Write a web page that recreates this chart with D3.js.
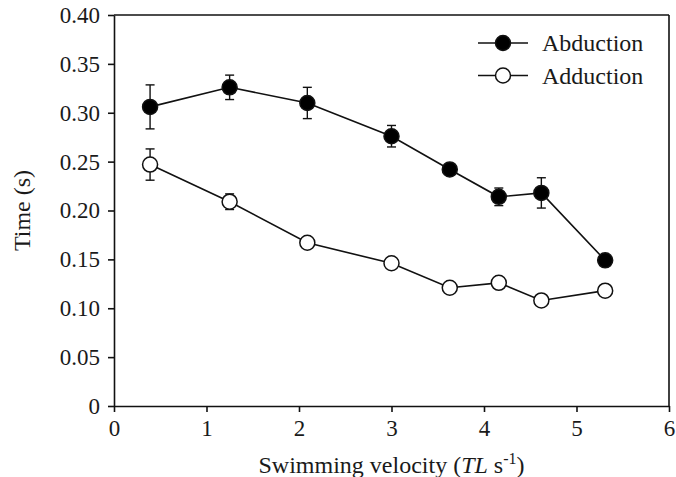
<!DOCTYPE html>
<html>
<head>
<meta charset="utf-8">
<script src="https://d3js.org/d3.v7.min.js"></script>
<style>
  body { margin: 0; background: #fff; }
  svg { display: block; }
  svg text { font-family: "Liberation Serif", "Tinos", "DejaVu Serif", serif !important; fill: #1a1a1a; }
</style>
</head>
<body>
<svg width="676" height="477"></svg>
<script>
// velocities (TL s-1)
const velocity = [0.39, 1.25, 2.09, 3.0, 3.63, 4.16, 4.62, 5.31];
// abduction time (s) and its error
const abduction = [0.306, 0.326, 0.310, 0.276, 0.242, 0.214, 0.218, 0.149];
const abductionErr = [0.0225, 0.0125, 0.016, 0.011, 0.006, 0.009, 0.0155, 0.003];
// adduction time (s) and its error
const adduction = [0.247, 0.209, 0.167, 0.146, 0.121, 0.126, 0.108, 0.118];
const adductionErr = [0.016, 0.008, 0.004, 0.003, 0.003, 0.004, 0.003, 0.003];
const xTicks = [0, 1, 2, 3, 4, 5, 6];
const yTicks = [0, 0.05, 0.10, 0.15, 0.20, 0.25, 0.30, 0.35, 0.40];

const svg = d3.select("svg"),
      margin = {top: 15, right: 7, bottom: 71, left: 114},
      width = +svg.attr("width") - margin.left - margin.right,
      height = +svg.attr("height") - margin.top - margin.bottom;

const x = d3.scaleLinear().domain([0, 6]).range([0, width]);
const y = d3.scaleLinear().domain([0, 0.40]).range([height, 0]);

const g = svg.append("g").attr("transform", `translate(${margin.left},${margin.top})`);

// axes
const gx = g.append("g")
  .attr("transform", `translate(0,${height})`)
  .call(d3.axisBottom(x).tickValues(xTicks).tickFormat(d3.format("d"))
    .tickSize(6).tickSizeOuter(0).tickPadding(6));
const gy = g.append("g")
  .call(d3.axisLeft(y).tickValues(yTicks).tickFormat(d => d === 0 ? "0" : d3.format(".2f")(d))
    .tickSize(6).tickSizeOuter(0).tickPadding(8));
[gx, gy].forEach(a => {
  a.attr("font-family", null);
  a.selectAll("path, line").attr("stroke", "#111").attr("stroke-width", 1.6);
  a.selectAll("text").attr("font-size", 23).attr("fill", "#1a1a1a");
});
gx.selectAll("text").attr("dy", "0.78em");

// box: top and right borders
g.append("line").attr("x1", 0).attr("x2", width).attr("y1", 0).attr("y2", 0)
  .attr("stroke", "#111").attr("stroke-width", 1.6);
g.append("line").attr("x1", width).attr("x2", width).attr("y1", 0).attr("y2", height)
  .attr("stroke", "#111").attr("stroke-width", 1.6);

// axis titles
svg.append("text")
  .attr("x", margin.left + x(3.0)).attr("y", 473)
  .attr("text-anchor", "middle").attr("font-size", 24)
  .html('Swimming velocity (<tspan font-style="italic">TL</tspan> s<tspan dy="-9" font-size="16">-1</tspan><tspan dy="9">)</tspan>');
svg.append("text")
  .attr("transform", `translate(30,${margin.top + y(0.20)}) rotate(-90)`)
  .attr("text-anchor", "middle").attr("font-size", 24)
  .text("Time (s)");

const series = [
  {name: "Abduction", values: abduction, err: abductionErr, fill: "#000"},
  {name: "Adduction", values: adduction, err: adductionErr, fill: "#fff"}
];

const line = d3.line().x(d => x(d[0])).y(d => y(d[1]));
const r = 7.5;

series.forEach(s => {
  const pts = velocity.map((v, i) => [v, s.values[i], s.err[i]]);
  g.append("path").datum(pts).attr("d", line)
    .attr("fill", "none").attr("stroke", "#111").attr("stroke-width", 1.6);
  const eb = g.append("g").selectAll("g").data(pts).join("g");
  eb.append("line")
    .attr("x1", d => x(d[0])).attr("x2", d => x(d[0]))
    .attr("y1", d => y(d[1] + d[2])).attr("y2", d => y(d[1] - d[2]))
    .attr("stroke", "#111").attr("stroke-width", 1.4);
  [1, -1].forEach(sg => {
    eb.append("line")
      .attr("x1", d => x(d[0]) - 4.5).attr("x2", d => x(d[0]) + 4.5)
      .attr("y1", d => y(d[1] + sg * d[2])).attr("y2", d => y(d[1] + sg * d[2]))
      .attr("stroke", "#111").attr("stroke-width", 1.4);
  });
  g.append("g").selectAll("circle").data(pts).join("circle")
    .attr("cx", d => x(d[0])).attr("cy", d => y(d[1])).attr("r", r)
    .attr("fill", s.fill).attr("stroke", "#111").attr("stroke-width", 1.5);
});

// legend
const legend = svg.append("g").attr("transform", "translate(478,43)");
series.forEach((s, i) => {
  const row = legend.append("g").attr("transform", `translate(0,${i * 32.5})`);
  row.append("line").attr("x1", 0).attr("x2", 50).attr("y1", 0).attr("y2", 0)
    .attr("stroke", "#111").attr("stroke-width", 1.6);
  row.append("circle").attr("cx", 25).attr("cy", 0).attr("r", r)
    .attr("fill", s.fill).attr("stroke", "#111").attr("stroke-width", 1.5);
  row.append("text").attr("x", 64).attr("y", 0).attr("dy", "0.35em")
    .attr("font-size", 24).text(s.name);
});
</script>
</body>
</html>
